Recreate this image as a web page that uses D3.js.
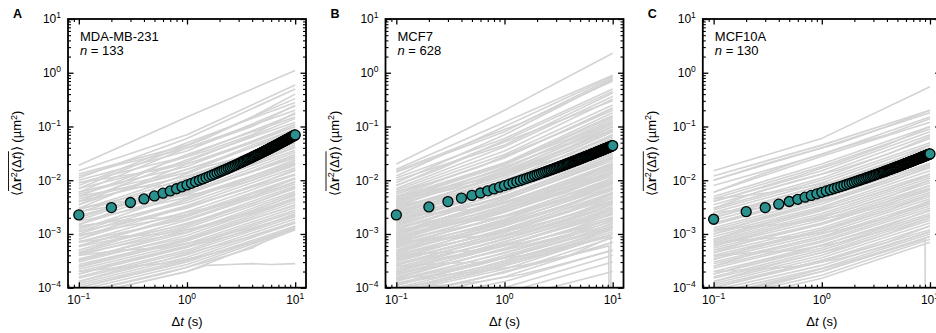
<!DOCTYPE html>
<html>
<head>
<meta charset="utf-8">
<script src="https://cdn.jsdelivr.net/npm/d3@7/dist/d3.min.js"></script>
<style>
  html, body { margin: 0; padding: 0; background: #ffffff; }
  svg { display: block; }
  text { font-family: "Liberation Sans", Arial, Helvetica, sans-serif; fill: #000; }
</style>
</head>
<body>
<svg id="chart" width="936" height="333"></svg>
<script>
// Lag times of the ensemble-averaged MSD (s)
const lagTimes = [
  0.1, 0.2, 0.3, 0.4, 0.5, 0.6, 0.7, 0.8, 0.9, 1.0,
  1.1, 1.2, 1.3, 1.4, 1.5, 1.6, 1.7, 1.8, 1.9, 2.0,
  2.1, 2.2, 2.3, 2.4, 2.5, 2.6, 2.7, 2.8, 2.9, 3.0,
  3.1, 3.2, 3.3, 3.4, 3.5, 3.6, 3.7, 3.8, 3.9, 4.0,
  4.1, 4.2, 4.3, 4.4, 4.5, 4.6, 4.7, 4.8, 4.9, 5.0,
  5.1, 5.2, 5.3, 5.4, 5.5, 5.6, 5.7, 5.8, 5.9, 6.0,
  6.1, 6.2, 6.3, 6.4, 6.5, 6.6, 6.7, 6.8, 6.9, 7.0,
  7.1, 7.2, 7.3, 7.4, 7.5, 7.6, 7.7, 7.8, 7.9, 8.0,
  8.1, 8.2, 8.3, 8.4, 8.5, 8.6, 8.7, 8.8, 8.9, 9.0,
  9.1, 9.2, 9.3, 9.4, 9.5, 9.6, 9.7, 9.8, 9.9, 10.0
];

// Ensemble-averaged MSD (µm²) per cell line
const meanMSD_A = [
  0.00226, 0.00310, 0.00385, 0.00448, 0.00510, 0.00575, 0.00633, 0.00694, 0.00755, 0.00817,
  0.00877, 0.00938, 0.00998, 0.01059, 0.01119, 0.01180, 0.01240, 0.01301, 0.01362, 0.01422,
  0.01483, 0.01545, 0.01606, 0.01667, 0.01729, 0.01791, 0.01853, 0.01915, 0.01978, 0.02040,
  0.02103, 0.02166, 0.02229, 0.02293, 0.02357, 0.02421, 0.02485, 0.02549, 0.02614, 0.02679,
  0.02744, 0.02808, 0.02874, 0.02939, 0.03005, 0.03071, 0.03137, 0.03203, 0.03270, 0.03338,
  0.03405, 0.03471, 0.03540, 0.03607, 0.03676, 0.03744, 0.03813, 0.03881, 0.03951, 0.04019,
  0.04088, 0.04159, 0.04228, 0.04299, 0.04368, 0.04438, 0.04510, 0.04581, 0.04652, 0.04724,
  0.04797, 0.04867, 0.04939, 0.05012, 0.05085, 0.05158, 0.05230, 0.05304, 0.05377, 0.05450,
  0.05525, 0.05598, 0.05673, 0.05748, 0.05821, 0.05897, 0.05972, 0.06046, 0.06124, 0.06199,
  0.06273, 0.06349, 0.06427, 0.06503, 0.06578, 0.06657, 0.06733, 0.06811, 0.06888, 0.06966
];
const meanMSD_B = [
  0.00226, 0.00318, 0.00400, 0.00465, 0.00522, 0.00578, 0.00635, 0.00689, 0.00742, 0.00794,
  0.00845, 0.00895, 0.00944, 0.00992, 0.01039, 0.01086, 0.01132, 0.01178, 0.01223, 0.01268,
  0.01313, 0.01357, 0.01400, 0.01444, 0.01487, 0.01530, 0.01573, 0.01615, 0.01657, 0.01699,
  0.01741, 0.01782, 0.01824, 0.01866, 0.01907, 0.01948, 0.01989, 0.02029, 0.02069, 0.02110,
  0.02150, 0.02190, 0.02230, 0.02270, 0.02310, 0.02350, 0.02389, 0.02428, 0.02468, 0.02507,
  0.02547, 0.02586, 0.02625, 0.02664, 0.02703, 0.02742, 0.02780, 0.02819, 0.02858, 0.02897,
  0.02935, 0.02973, 0.03012, 0.03050, 0.03089, 0.03126, 0.03165, 0.03203, 0.03240, 0.03279,
  0.03317, 0.03354, 0.03393, 0.03431, 0.03468, 0.03506, 0.03544, 0.03582, 0.03620, 0.03657,
  0.03695, 0.03733, 0.03771, 0.03807, 0.03846, 0.03883, 0.03920, 0.03958, 0.03995, 0.04032,
  0.04069, 0.04107, 0.04145, 0.04181, 0.04219, 0.04256, 0.04293, 0.04330, 0.04367, 0.04406
];
const meanMSD_C = [
  0.00188, 0.00260, 0.00310, 0.00358, 0.00402, 0.00442, 0.00483, 0.00521, 0.00559, 0.00596,
  0.00632, 0.00666, 0.00701, 0.00735, 0.00768, 0.00801, 0.00833, 0.00865, 0.00897, 0.00928,
  0.00959, 0.00990, 0.01021, 0.01051, 0.01081, 0.01111, 0.01141, 0.01170, 0.01200, 0.01229,
  0.01258, 0.01287, 0.01315, 0.01344, 0.01372, 0.01400, 0.01429, 0.01457, 0.01485, 0.01513,
  0.01541, 0.01568, 0.01596, 0.01624, 0.01651, 0.01679, 0.01706, 0.01733, 0.01761, 0.01788,
  0.01815, 0.01842, 0.01868, 0.01895, 0.01922, 0.01949, 0.01975, 0.02002, 0.02029, 0.02056,
  0.02082, 0.02109, 0.02135, 0.02161, 0.02188, 0.02214, 0.02240, 0.02266, 0.02292, 0.02318,
  0.02345, 0.02371, 0.02397, 0.02422, 0.02449, 0.02474, 0.02500, 0.02526, 0.02552, 0.02578,
  0.02604, 0.02630, 0.02656, 0.02682, 0.02707, 0.02733, 0.02758, 0.02784, 0.02810, 0.02835,
  0.02861, 0.02886, 0.02912, 0.02937, 0.02962, 0.02988, 0.03014, 0.03039, 0.03064, 0.03090
];

// Single-cell MSD tracks (µm²) sampled at these lag times (s)
const trackTimes = [0.1, 1, 10];
const tracks_A = [
  [0.019, 0.15, 1.1], [0.015, 0.07, 0.59], [0.011, 0.06, 0.5], [0.013, 0.045, 0.33],
  [0.008, 0.05, 0.28], [0.01, 0.035, 0.24], [0.006, 0.04, 0.2], [0.009, 0.028, 0.17],
  [0.005, 0.03, 0.15], [0.007, 0.022, 0.14], [0.004, 0.024, 0.12], [0.006, 0.018, 0.11],
  [0.003, 0.02, 0.1], [0.0045, 0.014, 0.085], [0.0035, 0.016, 0.075], [0.0025, 0.011, 0.07],
  [0.004, 0.012, 0.055], [0.002, 0.0095, 0.06], [0.003, 0.008, 0.045], [0.0018, 0.0085, 0.04],
  [0.0022, 0.007, 0.036], [0.0015, 0.006, 0.033], [0.0026, 0.0055, 0.028], [0.0012, 0.0058, 0.026],
  [0.0017, 0.0048, 0.022], [0.001, 0.0042, 0.024], [0.0013, 0.0038, 0.019], [0.0009, 0.0034, 0.017],
  [0.0011, 0.003, 0.015], [0.0008, 0.0032, 0.013], [0.0007, 0.0026, 0.0125], [0.00095, 0.0023, 0.011],
  [0.0006, 0.0021, 0.0105], [0.00072, 0.0019, 0.0092], [0.0005, 0.0018, 0.0085], [0.00058, 0.0015, 0.0078],
  [0.00045, 0.0014, 0.007], [0.0004, 0.0013, 0.0062], [0.00043, 0.0011, 0.0058], [0.00034, 0.00105, 0.0052],
  [0.0003, 0.00095, 0.0047], [0.00033, 0.00085, 0.0043], [0.00027, 0.0008, 0.0039], [0.00024, 0.00074, 0.0035],
  [0.00022, 0.00066, 0.0031], [0.0002, 0.0006, 0.0028], [0.00018, 0.00056, 0.0026], [0.00016, 0.0005, 0.0023],
  [0.00015, 0.00046, 0.0021], [0.00013, 0.00041, 0.0019], [0.00012, 0.00037, 0.0017], [0.00011, 0.00033, 0.0016],
  [0.0001, 0.0003, 0.0014], [0.00009, 0.00027, 0.0013], [0.00008, 0.00024, 0.00125], [0.00007, 0.0002, 0.0012]
];
const tracks_B = [
  [0.02, 0.2, 2.3], [0.016, 0.12, 0.9], [0.012, 0.1, 0.85], [0.014, 0.08, 0.8],
  [0.009, 0.07, 0.75], [0.011, 0.06, 0.5], [0.008, 0.055, 0.45], [0.01, 0.045, 0.42],
  [0.007, 0.042, 0.36], [0.0065, 0.035, 0.32],
  [0.006, 0.03, 0.25], [0.0055, 0.026, 0.22], [0.005, 0.027, 0.2], [0.0048, 0.021, 0.18],
  [0.0045, 0.02, 0.16], [0.0042, 0.019, 0.15], [0.004, 0.016, 0.13], [0.0037, 0.017, 0.12],
  [0.0035, 0.014, 0.11], [0.0033, 0.015, 0.1], [0.003, 0.012, 0.09], [0.0028, 0.0125, 0.085],
  [0.0026, 0.011, 0.08], [0.0025, 0.0095, 0.07], [0.0023, 0.01, 0.065], [0.0022, 0.0085, 0.06],
  [0.002, 0.009, 0.055], [0.0019, 0.0075, 0.05], [0.0018, 0.008, 0.046], [0.0017, 0.0066, 0.042],
  [0.0016, 0.0068, 0.038], [0.0015, 0.0058, 0.035], [0.0014, 0.006, 0.032], [0.0013, 0.005, 0.03],
  [0.0012, 0.0052, 0.027], [0.0011, 0.0043, 0.025], [0.00105, 0.0045, 0.023], [0.001, 0.0037, 0.021],
  [0.00095, 0.0039, 0.019], [0.0009, 0.0032, 0.018], [0.00085, 0.0034, 0.016], [0.0008, 0.0028, 0.015],
  [0.00075, 0.003, 0.014], [0.0007, 0.0025, 0.013], [0.00066, 0.0026, 0.012], [0.00062, 0.0021, 0.011],
  [0.00058, 0.0022, 0.01], [0.00055, 0.0018, 0.0095], [0.0005, 0.0019, 0.009], [0.00047, 0.0016, 0.0082],
  [0.00044, 0.0017, 0.0075], [0.00041, 0.0014, 0.007], [0.00038, 0.0015, 0.0065], [0.00036, 0.0012, 0.006],
  [0.00034, 0.00125, 0.0055], [0.00032, 0.00105, 0.005], [0.0003, 0.0011, 0.0046], [0.00028, 0.0009, 0.0042],
  [0.00026, 0.00095, 0.0038], [0.00024, 0.0008, 0.0035], [0.00022, 0.00082, 0.0032], [0.0002, 0.0007, 0.003],
  [0.00019, 0.00072, 0.0027], [0.00018, 0.0006, 0.0025], [0.00017, 0.00062, 0.0023], [0.00016, 0.00052, 0.0021],
  [0.00015, 0.00054, 0.0019], [0.00014, 0.00044, 0.0017], [0.00013, 0.00045, 0.0015], [0.00012, 0.00037, 0.0014],
  [0.00011, 0.00036, 0.0013], [0.0001, 0.0003, 0.0012], [0.00009, 0.00028, 0.0011], [0.00008, 0.00022, 0.001],
  [0.00007, 0.00019, 0.00085], [0.00006, 0.00016, 0.0007], [0.00005, 0.00013, 0.0005], [0.00004, 0.0001, 0.0004],
  [0.00003, 0.00008, 0.0003], [0.00003, 0.00006, 0.0002]
];
const tracks_C = [
  [0.015, 0.06, 0.55], [0.012, 0.045, 0.2], [0.01, 0.04, 0.18], [0.008, 0.03, 0.15],
  [0.006, 0.028, 0.12], [0.005, 0.02, 0.1], [0.0045, 0.018, 0.09], [0.004, 0.015, 0.08],
  [0.0035, 0.013, 0.07], [0.003, 0.011, 0.06], [0.0028, 0.01, 0.05], [0.0025, 0.009, 0.045],
  [0.0022, 0.008, 0.04], [0.002, 0.007, 0.035], [0.0018, 0.0062, 0.03], [0.0016, 0.0055, 0.027],
  [0.0015, 0.005, 0.024], [0.0013, 0.0045, 0.021], [0.0012, 0.004, 0.019], [0.0011, 0.0036, 0.017],
  [0.001, 0.0032, 0.015], [0.0009, 0.003, 0.013], [0.0008, 0.0027, 0.012], [0.00075, 0.0024, 0.011],
  [0.0007, 0.0022, 0.01], [0.00065, 0.002, 0.009], [0.0006, 0.0018, 0.008], [0.00055, 0.0016, 0.0072],
  [0.0005, 0.0015, 0.0065], [0.00045, 0.0013, 0.006], [0.0004, 0.0012, 0.0055], [0.00037, 0.0011, 0.005],
  [0.00034, 0.001, 0.0045], [0.0003, 0.0009, 0.004], [0.00028, 0.00082, 0.0036], [0.00025, 0.00075, 0.0033],
  [0.00023, 0.0007, 0.003], [0.0002, 0.00062, 0.0027], [0.00018, 0.00055, 0.0024], [0.00016, 0.0005, 0.0022],
  [0.00015, 0.00045, 0.002], [0.00013, 0.0004, 0.0018], [0.00012, 0.00036, 0.0016], [0.00011, 0.00032, 0.0014],
  [0.0001, 0.0003, 0.0012], [0.00009, 0.00026, 0.0011], [0.00008, 0.00023, 0.001], [0.00007, 0.0002, 0.0009],
  [0.00006, 0.00017, 0.0008], [0.00005, 0.00015, 0.0007]
];

// Further tracks sampled more finely, which bend and cross the others
const curvedTimes = [0.1, 0.25, 0.6, 1.5, 4, 10];
const curved_A = [
  [0.012, 0.02, 0.03, 0.06, 0.15, 0.4], [0.007, 0.015, 0.03, 0.05, 0.1, 0.25],
  [0.0055, 0.009, 0.02, 0.035, 0.07, 0.18], [0.009, 0.012, 0.016, 0.025, 0.05, 0.1],
  [0.0035, 0.008, 0.012, 0.02, 0.045, 0.09], [0.0028, 0.005, 0.009, 0.018, 0.03, 0.065],
  [0.005, 0.007, 0.008, 0.012, 0.022, 0.05], [0.002, 0.0035, 0.006, 0.011, 0.02, 0.042],
  [0.0015, 0.003, 0.005, 0.0075, 0.015, 0.03], [0.003, 0.004, 0.0045, 0.006, 0.01, 0.02],
  [0.0011, 0.002, 0.0032, 0.006, 0.011, 0.021], [0.0008, 0.0016, 0.0025, 0.004, 0.0075, 0.016],
  [0.0014, 0.0018, 0.002, 0.003, 0.005, 0.0095], [0.0006, 0.001, 0.0017, 0.0028, 0.005, 0.011],
  [0.00045, 0.0008, 0.0012, 0.002, 0.0036, 0.0075], [0.0007, 0.0009, 0.001, 0.0014, 0.0024, 0.0045],
  [0.00032, 0.00055, 0.0009, 0.0015, 0.0026, 0.0055], [0.00025, 0.0004, 0.0006, 0.001, 0.0019, 0.0034],
  [0.0004, 0.0005, 0.00055, 0.0008, 0.0013, 0.0022], [0.00018, 0.0003, 0.00045, 0.0007, 0.0012, 0.0024],
  [0.00013, 0.00022, 0.00032, 0.00055, 0.0009, 0.0016], [0.0002, 0.00024, 0.00028, 0.0004, 0.0007, 0.0013],
  [0.0001, 0.00016, 0.00024, 0.0004, 0.0007, 0.0013], [0.00008, 0.00012, 0.00018, 0.0003, 0.00055, 0.0014]
];
const curved_B = [
  [0.015, 0.03, 0.06, 0.12, 0.3, 0.7], [0.008, 0.016, 0.035, 0.07, 0.15, 0.3],
  [0.006, 0.01, 0.018, 0.04, 0.09, 0.22], [0.004, 0.008, 0.015, 0.028, 0.06, 0.14],
  [0.005, 0.007, 0.01, 0.018, 0.04, 0.1], [0.003, 0.005, 0.009, 0.017, 0.035, 0.08],
  [0.0025, 0.004, 0.006, 0.011, 0.025, 0.06], [0.0035, 0.0045, 0.0055, 0.008, 0.016, 0.04],
  [0.0018, 0.003, 0.005, 0.009, 0.018, 0.04], [0.0014, 0.0025, 0.0038, 0.0065, 0.013, 0.028],
  [0.002, 0.0025, 0.003, 0.0045, 0.008, 0.017], [0.001, 0.0018, 0.003, 0.005, 0.009, 0.02],
  [0.0008, 0.0014, 0.0022, 0.0036, 0.007, 0.014], [0.0012, 0.0015, 0.0018, 0.0025, 0.0045, 0.009],
  [0.0006, 0.001, 0.0016, 0.0026, 0.005, 0.01], [0.00045, 0.0008, 0.0012, 0.002, 0.0036, 0.0075],
  [0.0007, 0.0008, 0.0009, 0.0013, 0.0022, 0.004], [0.00035, 0.0006, 0.0009, 0.0014, 0.0026, 0.0055],
  [0.00027, 0.00045, 0.0007, 0.0011, 0.002, 0.004], [0.0004, 0.00045, 0.0005, 0.0007, 0.0011, 0.0019],
  [0.0002, 0.00035, 0.0005, 0.0008, 0.0014, 0.0028], [0.00015, 0.00025, 0.0004, 0.0006, 0.001, 0.002],
  [0.00025, 0.00028, 0.0003, 0.0004, 0.0006, 0.001], [0.00011, 0.00018, 0.00027, 0.00045, 0.0008, 0.0016],
  [0.00015, 0.00017, 0.0002, 0.00026, 0.0004, 0.0007], [0.00008, 0.00013, 0.0002, 0.00032, 0.0006, 0.0013],
  [0.0001, 0.00011, 0.00013, 0.00018, 0.0003, 0.0005], [0.00006, 0.0001, 0.00015, 0.00024, 0.0004, 0.0009],
  [0.0045, 0.006, 0.009, 0.016, 0.03, 0.07], [0.0032, 0.0048, 0.007, 0.012, 0.024, 0.05],
  [0.0027, 0.0038, 0.0055, 0.0095, 0.019, 0.045], [0.0022, 0.0032, 0.0048, 0.0085, 0.016, 0.035],
  [0.0016, 0.0024, 0.0036, 0.006, 0.012, 0.026], [0.0013, 0.0019, 0.0029, 0.0048, 0.0095, 0.021],
  [0.0011, 0.0016, 0.0024, 0.0042, 0.008, 0.017], [0.0009, 0.0013, 0.002, 0.0033, 0.0062, 0.013],
  [0.00075, 0.0011, 0.0016, 0.0027, 0.005, 0.011], [0.00062, 0.0009, 0.0013, 0.0022, 0.0042, 0.0088],
  [0.0005, 0.00075, 0.0011, 0.0018, 0.0034, 0.007], [0.00042, 0.0006, 0.0009, 0.0015, 0.0028, 0.0058],
  [0.00034, 0.0005, 0.00075, 0.0012, 0.0022, 0.0046], [0.00028, 0.0004, 0.0006, 0.001, 0.0018, 0.0037],
  [0.00022, 0.00032, 0.00048, 0.0008, 0.0015, 0.003], [0.00018, 0.00026, 0.0004, 0.00065, 0.0012, 0.0024],
  [0.00014, 0.0002, 0.0003, 0.0005, 0.0009, 0.0018], [0.00012, 0.00016, 0.00024, 0.0004, 0.0007, 0.0013],
  [0.0001, 0.00013, 0.00019, 0.00032, 0.00055, 0.001], [0.0038, 0.0065, 0.012, 0.024, 0.05, 0.12],
  [0.0028, 0.005, 0.0095, 0.019, 0.042, 0.1]
];
const curved_C = [
  [0.01, 0.018, 0.03, 0.05, 0.1, 0.2], [0.006, 0.012, 0.022, 0.04, 0.07, 0.14],
  [0.004, 0.007, 0.012, 0.022, 0.045, 0.1], [0.003, 0.006, 0.01, 0.016, 0.03, 0.065],
  [0.0045, 0.0055, 0.007, 0.01, 0.018, 0.035], [0.002, 0.0035, 0.006, 0.01, 0.02, 0.045],
  [0.0015, 0.0025, 0.004, 0.0075, 0.014, 0.03], [0.0025, 0.003, 0.0035, 0.005, 0.009, 0.018],
  [0.001, 0.0018, 0.003, 0.005, 0.01, 0.02], [0.0008, 0.0014, 0.0022, 0.0035, 0.0065, 0.013],
  [0.0012, 0.0014, 0.0016, 0.0022, 0.004, 0.008], [0.0006, 0.001, 0.0016, 0.0026, 0.0048, 0.01],
  [0.00045, 0.0008, 0.0012, 0.002, 0.0035, 0.007], [0.0007, 0.0008, 0.0009, 0.0012, 0.002, 0.0038],
  [0.00033, 0.0006, 0.0009, 0.0015, 0.0027, 0.0055], [0.00025, 0.00045, 0.0007, 0.0011, 0.002, 0.0042],
  [0.0004, 0.00045, 0.0005, 0.0007, 0.0012, 0.0022], [0.00018, 0.0003, 0.00045, 0.0008, 0.0014, 0.0028],
  [0.00013, 0.00022, 0.00035, 0.00055, 0.001, 0.002], [0.0002, 0.00022, 0.00025, 0.00035, 0.0006, 0.0011],
  [0.0001, 0.00016, 0.00025, 0.0004, 0.0007, 0.0014], [0.00007, 0.00011, 0.00017, 0.00028, 0.0005, 0.0009]
];

// Tracks with their own sampling (plateaus, tracks that drop out near the end)
const extraTimes_A = [[0.1, 0.4, 1, 1.5, 2.5, 4, 6, 10]];
const extraTracks_A = [[0.00007, 0.00013, 0.0002, 0.00026, 0.00027, 0.00028, 0.00027, 0.00028]];
const extraTimes_B = [[0.1, 1, 9.6, 9.7], [0.1, 1, 9.2, 9.3]];
const extraTracks_B = [[0.00009, 0.00028, 0.0009, 0.000001], [0.00006, 0.0002, 0.0006, 0.000001]];
const extraTimes_C = [[0.1, 1, 9.0, 9.1]];
const extraTracks_C = [[0.00006, 0.0002, 0.0008, 0.000001]];

const panelLetters = ["A", "B", "C"];
const cellLines = ["MDA-MB-231", "MCF7", "MCF10A"];
const cellCounts = [133, 628, 130];
const xTickValues = [0.1, 1, 10];
const yTickValues = [1e-4, 1e-3, 1e-2, 1e-1, 1, 10];

const panels = [
  { mean: meanMSD_A, tracks: tracks_A, curved: curved_A, extraTimes: extraTimes_A, extraTracks: extraTracks_A },
  { mean: meanMSD_B, tracks: tracks_B, curved: curved_B, extraTimes: extraTimes_B, extraTracks: extraTracks_B },
  { mean: meanMSD_C, tracks: tracks_C, curved: curved_C, extraTimes: extraTimes_C, extraTracks: extraTracks_C }
];

// Layout
const panelLeft = [68, 385.5, 702.8];
const panelTop = 19;
const W = 238, H = 268.7;
const trackColor = "#d3d3d3";
const meanColor = "#2a918e";

const svg = d3.select("#chart");

function powerLabel(sel, v) {
  const e = Math.round(Math.log10(v));
  sel.append("tspan").text("10");
  sel.append("tspan").attr("dy", -5).attr("font-size", 8.5)
    .text(e < 0 ? "\u2212" + (-e) : String(e));
}

panels.forEach((p, i) => {
  const g = svg.append("g").attr("transform", `translate(${panelLeft[i]},${panelTop})`);

  const x = d3.scaleLog().domain([Math.pow(10, -1.1), Math.pow(10, 1.1)]).range([0, W]);
  const y = d3.scaleLog().domain([1e-4, 10]).range([H, 0]);

  const clipId = "clip" + i;
  g.append("clipPath").attr("id", clipId)
    .append("rect").attr("width", W).attr("height", H);

  const line = d3.line().x(d => x(d[0])).y(d => y(d[1]));

  // single-cell tracks
  const tg = g.append("g").attr("clip-path", `url(#${clipId})`)
    .attr("fill", "none").attr("stroke", trackColor).attr("stroke-width", 1.6)
    .attr("stroke-linejoin", "round");
  tg.selectAll("path.track").data(p.tracks).join("path").attr("class", "track")
    .attr("d", d => line(trackTimes.map((t, j) => [t, d[j]])));
  tg.selectAll("path.curved").data(p.curved).join("path").attr("class", "curved")
    .attr("d", d => line(curvedTimes.map((t, j) => [t, d[j]])));
  tg.selectAll("path.extra").data(p.extraTracks).join("path").attr("class", "extra")
    .attr("d", (d, k) => line(p.extraTimes[k].map((t, j) => [t, d[j]])));

  // ensemble mean
  g.append("g").selectAll("circle")
    .data(lagTimes.map((t, k) => [t, p.mean[k]]))
    .join("circle")
    .attr("cx", d => x(d[0])).attr("cy", d => y(d[1])).attr("r", 5)
    .attr("fill", meanColor).attr("stroke", "#000").attr("stroke-width", 1.3);

  // ticks on all four sides, pointing inward
  const isDecade = v => Math.abs(Math.log10(v) - Math.round(Math.log10(v))) < 1e-9;
  const xAll = x.ticks();
  const xMajor = xAll.filter(isDecade);
  const xMinor = xAll.filter(v => !isDecade(v));
  const yAll = y.ticks();
  const yMajor = yAll.filter(isDecade);
  const yMinor = yAll.filter(v => !isDecade(v));

  const axes = [
    [d3.axisBottom(x), `translate(0,${H})`, xMajor, xMinor],
    [d3.axisTop(x), `translate(0,0)`, xMajor, xMinor],
    [d3.axisLeft(y), `translate(0,0)`, yMajor, yMinor],
    [d3.axisRight(y), `translate(${W},0)`, yMajor, yMinor]
  ];
  axes.forEach(([ax, tr, maj, min]) => {
    const a1 = g.append("g").attr("transform", tr)
      .call(ax.tickValues(maj).tickSize(-5.5).tickSizeOuter(0).tickFormat(() => ""));
    a1.select(".domain").remove();
    a1.selectAll(".tick line").attr("stroke-width", 1.3);
    const a2 = g.append("g").attr("transform", tr)
      .call(ax.tickValues(min).tickSize(-3).tickSizeOuter(0).tickFormat(() => ""));
    a2.select(".domain").remove();
    a2.selectAll(".tick line").attr("stroke-width", 1.1);
  });

  // frame
  g.append("rect").attr("width", W).attr("height", H)
    .attr("fill", "none").attr("stroke", "#000").attr("stroke-width", 1.8);

  // tick labels
  xTickValues.forEach(v => {
    const t = g.append("text").attr("x", x(v)).attr("y", H + 16)
      .attr("text-anchor", "middle").attr("font-size", 12);
    powerLabel(t, v);
  });
  yTickValues.forEach(v => {
    const t = g.append("text").attr("x", -7).attr("y", y(v) + 4.3)
      .attr("text-anchor", "end").attr("font-size", 12);
    powerLabel(t, v);
  });

  // axis titles
  const xl = g.append("text").attr("x", W / 2).attr("y", H + 38)
    .attr("text-anchor", "middle").attr("font-size", 13);
  xl.append("tspan").text("\u0394");
  xl.append("tspan").attr("font-style", "italic").text("t");
  xl.append("tspan").text(" (s)");

  const yg = g.append("g").attr("transform", `translate(-47,${H / 2}) rotate(-90)`);
  const yl = yg.append("text").attr("text-anchor", "middle").attr("font-size", 13);
  yl.append("tspan").text("\u27E8");
  yl.append("tspan").text("\u0394");
  yl.append("tspan").attr("font-weight", "bold").text("r");
  yl.append("tspan").attr("dy", -4.5).attr("font-size", 9).text("2");
  yl.append("tspan").attr("dy", 4.5).text("(\u0394");
  yl.append("tspan").attr("font-style", "italic").text("t");
  yl.append("tspan").text(")");
  yl.append("tspan").text("\u27E9 (\u00B5m");
  yl.append("tspan").attr("dy", -4.5).attr("font-size", 9).text("2");
  yl.append("tspan").attr("dy", 4.5).text(")");
  const node = yl.node();
  const x0 = node.getStartPositionOfChar(1).x;
  const x1 = node.getEndPositionOfChar(7).x;
  yg.append("line").attr("x1", x0).attr("x2", x1).attr("y1", -12.5).attr("y2", -12.5)
    .attr("stroke", "#000").attr("stroke-width", 0.9);

  // panel letter and annotation
  g.append("text").attr("x", -55).attr("y", -0.7)
    .attr("font-size", 12.5).attr("font-weight", "bold").text(panelLetters[i]);
  g.append("text").attr("x", 12).attr("y", 21.7).attr("font-size", 13).text(cellLines[i]);
  const nt = g.append("text").attr("x", 12).attr("y", 36.3).attr("font-size", 13);
  nt.append("tspan").attr("font-style", "italic").text("n");
  nt.append("tspan").text(" = " + cellCounts[i]);
});
</script>
</body>
</html>
